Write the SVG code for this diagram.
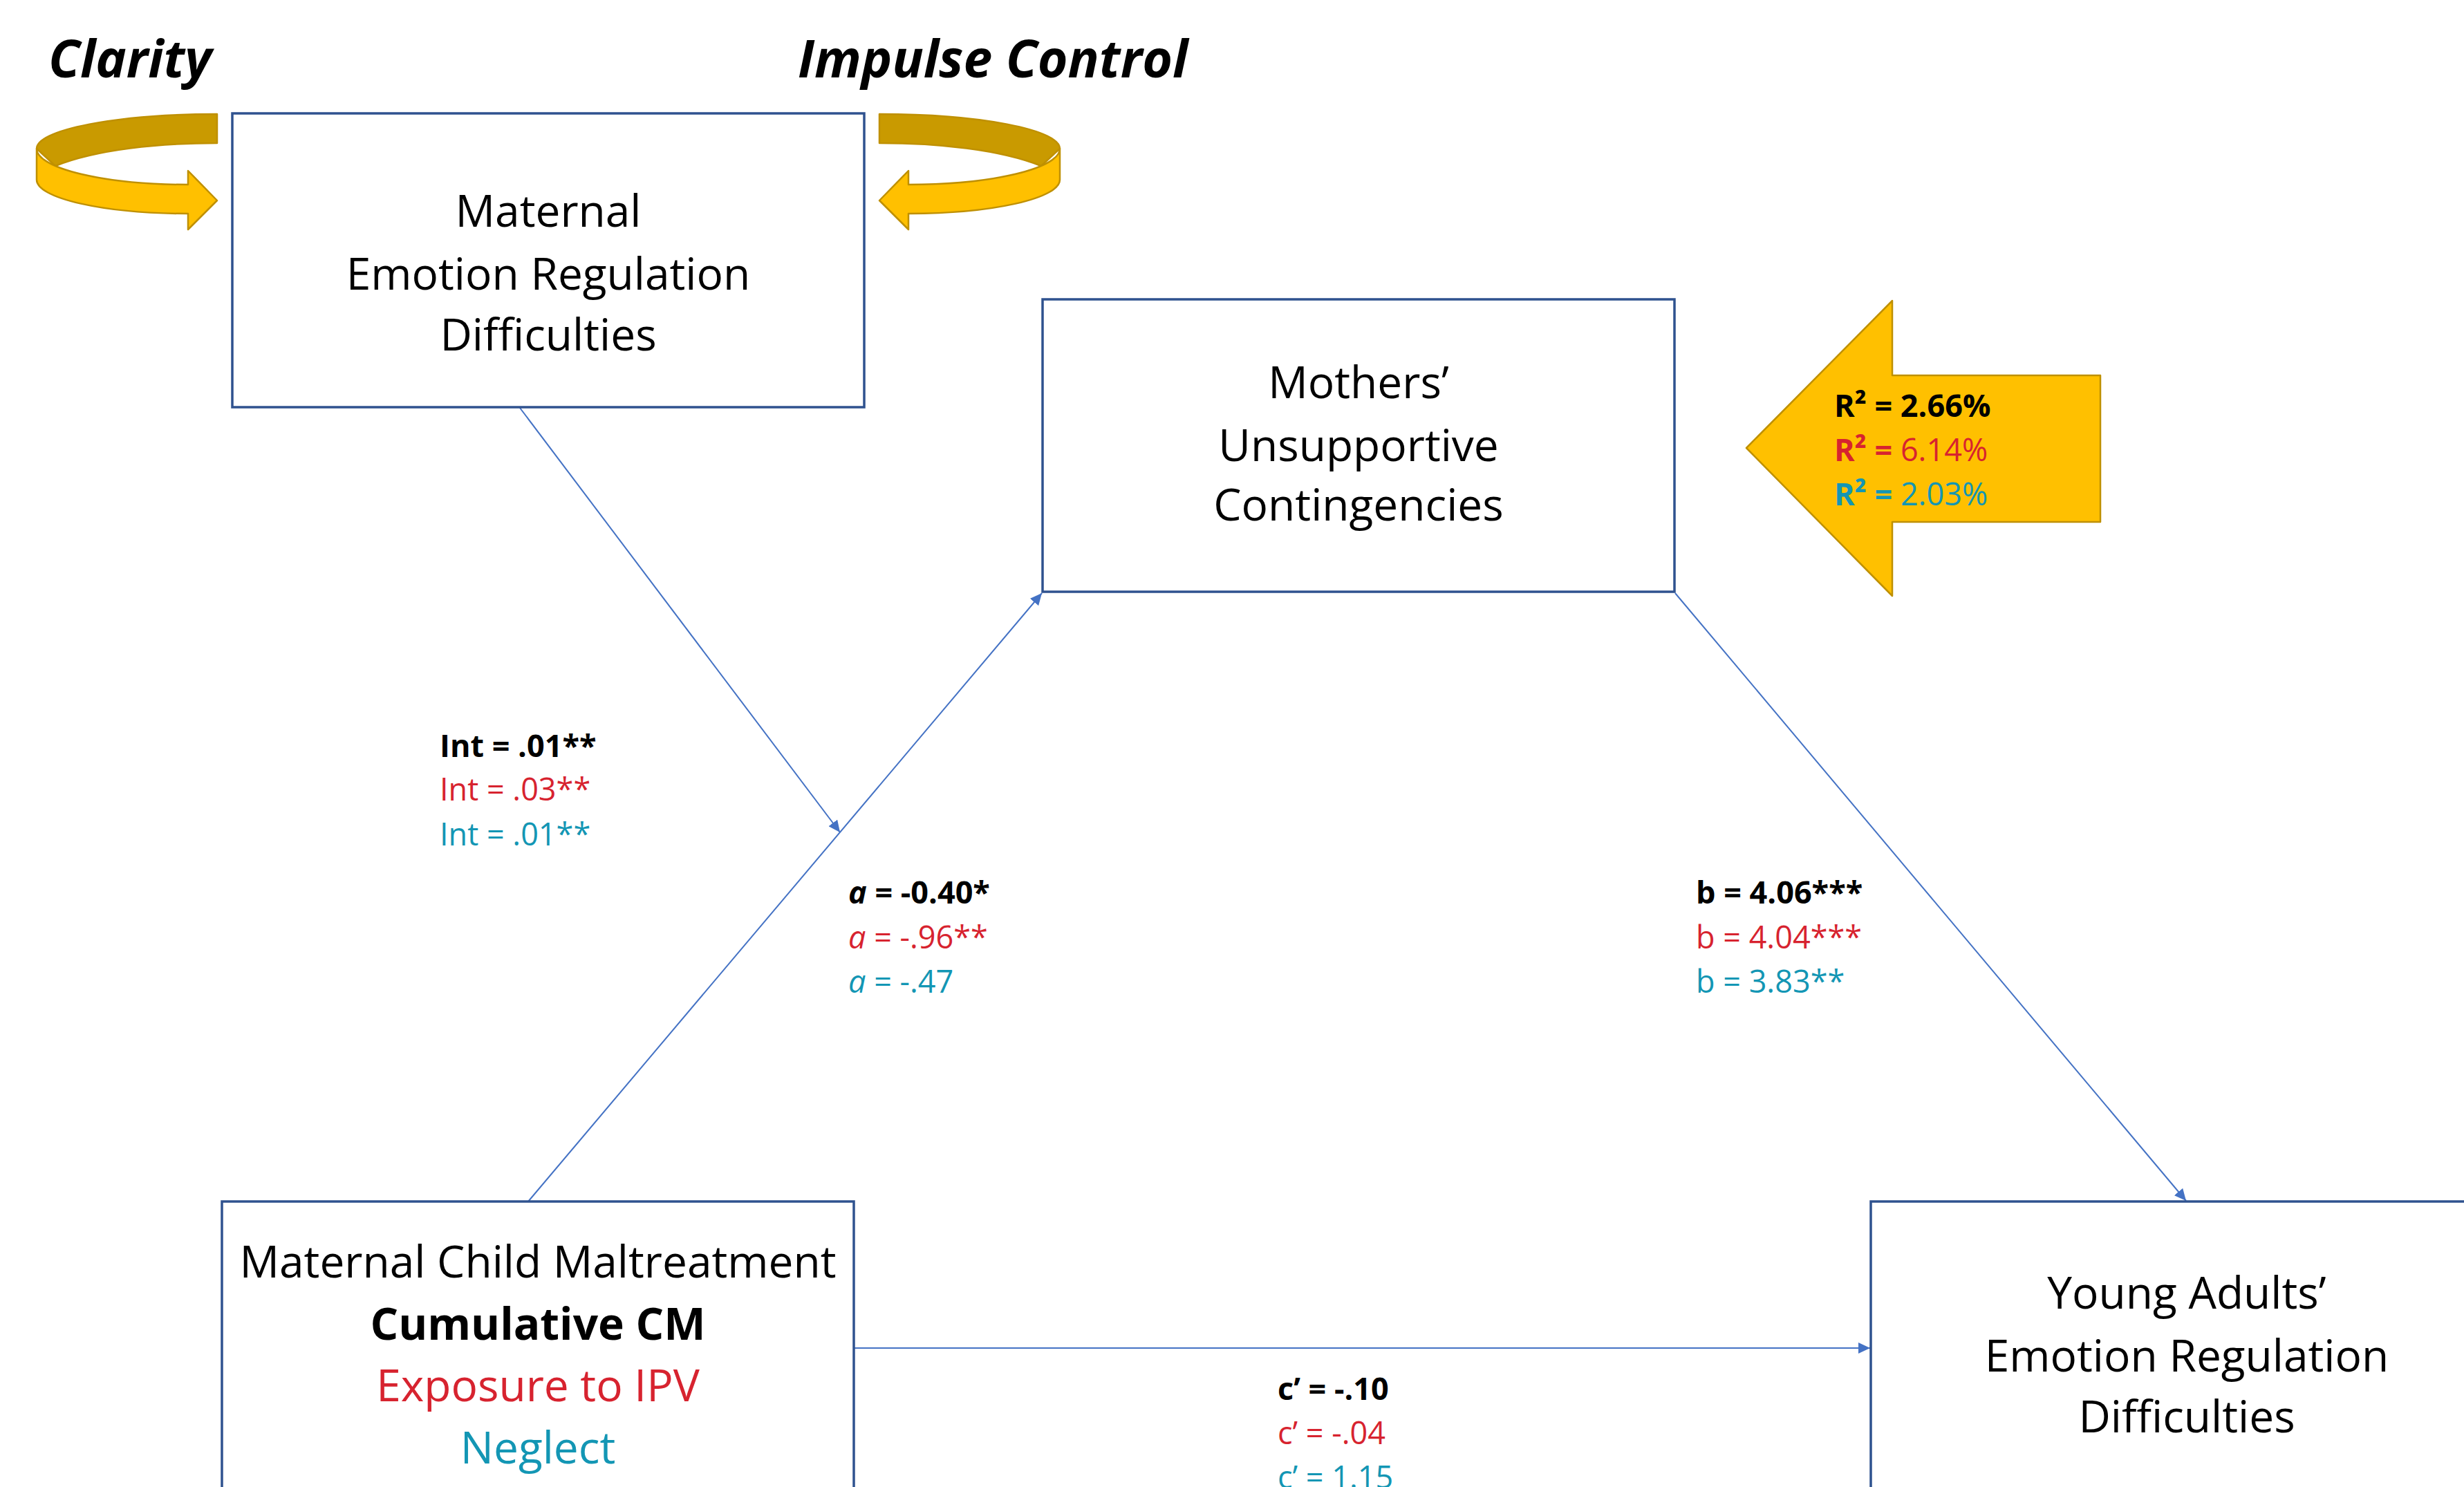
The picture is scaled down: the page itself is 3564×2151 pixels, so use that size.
<svg xmlns="http://www.w3.org/2000/svg" width="3564" height="2151" viewBox="0 0 3564 2151">
<style>
.box{fill:#FFFFFF;stroke:#2F528F;stroke-width:3.5}
.bt{font-family:"Open Sans","Liberation Sans",sans-serif;font-size:64px;fill:#000;text-anchor:middle}
.lb{font-family:"Open Sans","Liberation Sans",sans-serif;font-size:45px}
.title{font-family:"Open Sans","Liberation Sans",sans-serif;font-size:75px;font-weight:bold;font-style:italic;fill:#000}
.conn{stroke:#4472C4;stroke-width:2;fill:none;marker-end:url(#ah)}
.k{fill:#000;font-weight:bold}
.r{fill:#D7232F}
.t{fill:#1396B4}
.b{font-weight:bold}
.i{font-style:italic}
.light{fill:#FFC000;stroke:#BF9000;stroke-width:2.5;stroke-linejoin:round}
.dark{fill:#C99A00;stroke:#BF9000;stroke-width:2.5;stroke-linejoin:round}
</style>
<defs>
<marker id="ah" markerUnits="userSpaceOnUse" markerWidth="18" markerHeight="16" refX="17" refY="8" orient="auto">
<path d="M0,0 L17,8 L0,16 Z" fill="#4472C4"/>
</marker>
<g id="curl">
<path class="dark" d="M314,165 A261,50 0 0 0 53,215 L80,240 C140,216 230,207 314,207 Z"/>
<path class="light" d="M53,215 A219,52 0 0 0 272,267 L272,247 L314,290 L272,332 L272,309 A219,49 0 0 1 53,260 Z"/>
</g>
</defs>
<rect x="0" y="0" width="3564" height="2151" fill="#FFFFFF"/>

<g id="connectors">
<line class="conn" x1="752" y1="590" x2="1215" y2="1204"/>
<line class="conn" x1="764" y1="1738" x2="1507" y2="858"/>
<line class="conn" x1="2423" y1="858" x2="3162" y2="1737"/>
<line class="conn" x1="1235" y1="1950" x2="2705" y2="1950"/>
</g>

<g id="clarity">
<text class="title" x="70" y="112">Clarity</text>
<use href="#curl"/>
</g>
<g id="impulse-control">
<text class="title" x="1154" y="112">Impulse Control</text>
<use href="#curl" transform="translate(1586,0) scale(-1,1)"/>
</g>

<g id="maternal-er">
<rect class="box" x="336" y="164" width="914" height="425"/>
<text class="bt" x="793" y="328">Maternal</text>
<text class="bt" x="793" y="419">Emotion Regulation</text>
<text class="bt" x="793" y="507">Difficulties</text>
</g>

<g id="mothers-uc">
<rect class="box" x="1508" y="433" width="914" height="423"/>
<text class="bt" x="1965" y="576">Mothers’</text>
<text class="bt" x="1965" y="667">Unsupportive</text>
<text class="bt" x="1965" y="753">Contingencies</text>
</g>

<g id="r2-arrow">
<path class="light" d="M2526,648 L2737,435 L2737,543 L3038,543 L3038,755 L2737,755 L2737,862 Z"/>
<text class="lb k" x="2653" y="603">R² = 2.66%</text>
<text class="lb r" x="2653" y="667"><tspan class="b">R² =</tspan> 6.14%</text>
<text class="lb t" x="2653" y="731"><tspan class="b">R² =</tspan> 2.03%</text>
</g>

<g id="int-labels">
<text class="lb k" x="636" y="1095">Int = .01**</text>
<text class="lb r" x="636" y="1158">Int = .03**</text>
<text class="lb t" x="636" y="1223">Int = .01**</text>
</g>

<g id="a-labels">
<text class="lb k" x="1227" y="1307"><tspan class="i">a</tspan> = -0.40*</text>
<text class="lb r" x="1227" y="1372"><tspan class="i">a</tspan> = -.96**</text>
<text class="lb t" x="1227" y="1436"><tspan class="i">a</tspan> = -.47</text>
</g>

<g id="b-labels">
<text class="lb k" x="2453" y="1307">b = 4.06***</text>
<text class="lb r" x="2453" y="1372">b = 4.04***</text>
<text class="lb t" x="2453" y="1436">b = 3.83**</text>
</g>

<g id="maternal-cm">
<rect class="box" x="321" y="1738" width="914" height="450"/>
<text class="bt" x="778" y="1848">Maternal Child Maltreatment</text>
<text class="bt b" x="778" y="1938">Cumulative CM</text>
<text class="bt r" x="778" y="2027" style="fill:#D7232F">Exposure to IPV</text>
<text class="bt t" x="778" y="2117" style="fill:#1396B4">Neglect</text>
</g>

<g id="c-labels">
<text class="lb k" x="1848" y="2025">c’ = -.10</text>
<text class="lb r" x="1848" y="2089">c’ = -.04</text>
<text class="lb t" x="1848" y="2153">c’ = 1.15</text>
</g>

<g id="young-adults-er">
<rect class="box" x="2706" y="1738" width="914" height="450"/>
<text class="bt" x="3163" y="1893">Young Adults’</text>
<text class="bt" x="3163" y="1984">Emotion Regulation</text>
<text class="bt" x="3163" y="2072">Difficulties</text>
</g>
</svg>
